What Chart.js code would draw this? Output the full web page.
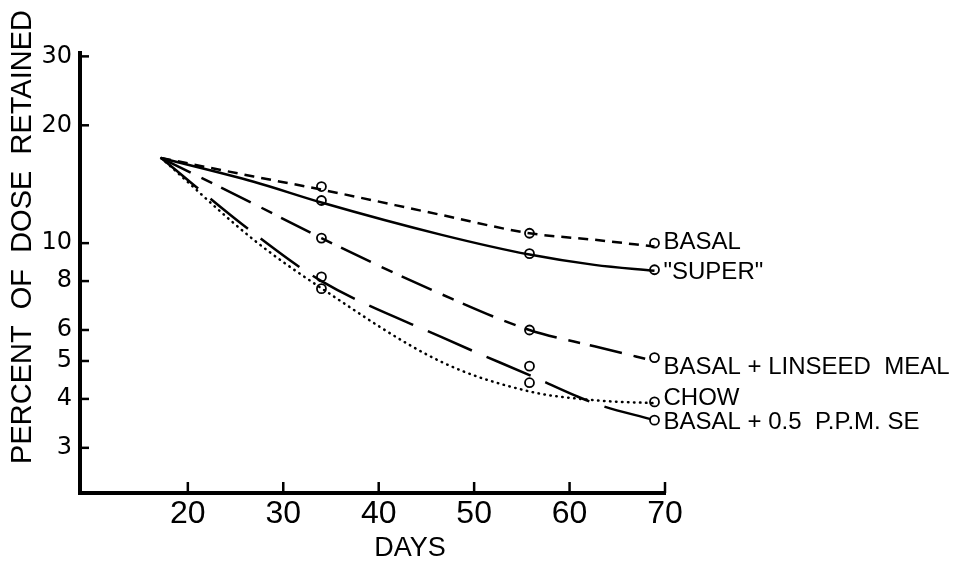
<!DOCTYPE html>
<html lang="en">
<head>
<meta charset="UTF-8" />
<title>Percent of dose retained</title>
<script src="https://cdn.jsdelivr.net/npm/chart.js@4.4.1/dist/chart.umd.min.js"></script>
<style>
  body { margin: 0; background: #fff; }
</style>
</head>
<body>
<canvas id="myChart" width="957" height="563"></canvas>
<script>
// fitted curves
const curveDays = [17.2, 26.9, 34, 46.6, 55.8, 62.6, 68.9];
const basalCurve = [16.5, 14.8, 13.7, 11.8, 10.6, 10.2, 9.8];
const superCurve = [16.5, 14.35, 12.7, 10.5, 9.35, 8.8, 8.5];
const linseedCurve = [16.5, 12.6, 10.3, 7.4, 6.0, 5.45, 5.0];
const chowCurve = [16.5, 10.2, 7.67, 4.97, 4.18, 3.97, 3.9];
const seCurve = [16.5, 10.6, 8.0, 5.75, 4.6, 3.9, 3.53];

// measured points (open circles)
const markerDays = [34, 55.8, 68.9];
const basalPts = [13.95, 10.6, 10.0];
const superPts = [12.85, 9.4, 8.55];
const linseedPts = [10.3, 6.0, 5.1];
const chowPts = [7.65, 4.4, 3.93];
const sePts = [8.2, 4.85, 3.53];

const seriesNames = ['BASAL', '"SUPER"', 'BASAL + LINSEED  MEAL', 'CHOW', 'BASAL + 0.5  P.P.M. SE'];
const xTicks = [20, 30, 40, 50, 60, 70];
const yTicks = [3, 4, 5, 6, 8, 10, 20, 30];

function pts(xs, ys) {
  return xs.map((x, i) => ({ x: x, y: ys[i] }));
}

function curve(values, dash) {
  return {
    type: 'line',
    data: pts(curveDays, values),
    borderColor: '#000',
    borderWidth: 2.5,
    borderDash: dash,
    borderCapStyle: dash.length && dash[0] < 2 ? 'round' : 'butt',
    cubicInterpolationMode: 'monotone',
    pointRadius: 0,
    fill: false
  };
}

function markers(values) {
  return {
    type: 'scatter',
    data: pts(markerDays, values),
    pointRadius: 4.5,
    pointBorderWidth: 1.8,
    pointBorderColor: '#000',
    pointBackgroundColor: 'rgba(0,0,0,0)',
    showLine: false
  };
}

// small vertical nudges for the end labels, as lettered on the original
const labelNudge = [-1, 3, 10, -4, 2];

const extras = {
  id: 'extras',
  afterDraw(chart) {
    const ctx = chart.ctx;
    const a = chart.chartArea;
    const xs = chart.scales.x;
    const ys = chart.scales.y;
    ctx.save();
    ctx.strokeStyle = '#000';
    ctx.lineWidth = 2.5;
    xTicks.forEach(v => {
      const p = xs.getPixelForValue(v);
      ctx.beginPath();
      ctx.moveTo(p, a.bottom);
      ctx.lineTo(p, a.bottom - 11);
      ctx.stroke();
    });
    yTicks.forEach(v => {
      const p = ys.getPixelForValue(v);
      ctx.beginPath();
      ctx.moveTo(a.left, p);
      ctx.lineTo(a.left + 9, p);
      ctx.stroke();
    });

    ctx.fillStyle = '#000';
    ctx.font = '24px "Liberation Sans"';
    ctx.textAlign = 'left';
    ctx.textBaseline = 'middle';
    const ends = [basalPts, superPts, linseedPts, chowPts, sePts];
    const lastDay = markerDays[markerDays.length - 1];
    ends.forEach((arr, i) => {
      const px = xs.getPixelForValue(lastDay) + 9;
      const py = ys.getPixelForValue(arr[arr.length - 1]) + labelNudge[i];
      ctx.fillText(seriesNames[i], px, py);
    });

    ctx.font = '27px "Liberation Sans"';
    ctx.textAlign = 'center';
    ctx.fillText('DAYS', 410, 549);

    ctx.translate(23, 237);
    ctx.rotate(-Math.PI / 2);
    ctx.font = '29px "Liberation Sans"';
    ctx.fillText('PERCENT  OF  DOSE  RETAINED', 0, 0);
    ctx.restore();
  }
};

const ctx = document.getElementById('myChart').getContext('2d');
new Chart(ctx, {
  data: {
    datasets: [
      curve(basalCurve, [10, 7]),
      curve(superCurve, []),
      curve(linseedCurve, [33, 12, 12, 10]),
      curve(chowCurve, [0.5, 5.5]),
      curve(seCurve, [48, 16]),
      markers(basalPts),
      markers(superPts),
      markers(linseedPts),
      markers(chowPts),
      markers(sePts)
    ]
  },
  options: {
    responsive: false,
    animation: false,
    layout: { padding: { top: 53, right: 292, left: 0, bottom: 0 } },
    plugins: { legend: { display: false }, tooltip: { enabled: false } },
    scales: {
      x: {
        type: 'linear',
        min: 8.7,
        max: 70,
        afterBuildTicks: s => { s.ticks = xTicks.map(v => ({ value: v })); },
        afterFit: s => { s.height = 70; },
        grid: { display: true, drawOnChartArea: false, drawTicks: false },
        border: { display: true, color: '#000', width: 4 },
        ticks: {
          color: '#000',
          padding: 2,
          maxRotation: 0,
          font: { family: 'Liberation Sans', size: 32 }
        }
      },
      y: {
        type: 'logarithmic',
        min: 2.3,
        max: 30.6,
        afterBuildTicks: s => { s.ticks = yTicks.map(v => ({ value: v })); },
        afterFit: s => { s.width = 80; },
        grid: { display: true, drawOnChartArea: false, drawTicks: false },
        border: { display: true, color: '#000', width: 4 },
        ticks: {
          color: '#000',
          padding: 8,
          callback: v => String(v),
          font: { family: 'DejaVu Sans', size: 24 }
        }
      }
    }
  },
  plugins: [extras]
});
</script>
</body>
</html>
